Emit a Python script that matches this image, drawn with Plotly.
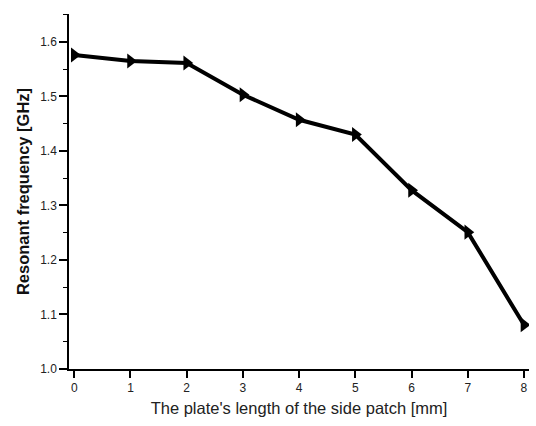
import plotly.graph_objects as go

length_mm = [0, 1, 2, 3, 4, 5, 6, 7, 8]
freq_ghz = [1.576, 1.565, 1.561, 1.503, 1.457, 1.430, 1.328, 1.251, 1.081]
x_ticks = [0, 1, 2, 3, 4, 5, 6, 7, 8]
y_ticks = [1.0, 1.1, 1.2, 1.3, 1.4, 1.5, 1.6]

fig = go.Figure()
fig.add_trace(go.Scatter(
    x=length_mm, y=freq_ghz, mode="lines+markers",
    line=dict(color="black", width=4),
    marker=dict(symbol="triangle-right", size=13, color="black"),
    showlegend=False,
))

font = "Liberation Sans, Arial, sans-serif"
fig.update_layout(
    width=536, height=426,
    margin=dict(l=69, r=7, t=14, b=57),
    paper_bgcolor="white", plot_bgcolor="white",
    font=dict(family=font, color="#222", size=12),
)
fig.update_xaxes(
    range=[-0.094, 8.09], tickvals=x_ticks, ticktext=[str(v) for v in x_ticks],
    showline=True, linecolor="black", linewidth=1.5, mirror=False,
    ticks="outside", ticklen=7, tickwidth=1.5, tickcolor="black",
    showgrid=False, zeroline=False,
    tickfont=dict(size=12, family=font, color="#222"),
    title=dict(text="The plate's length of the side patch [mm]",
               font=dict(size=16.5, family=font, color="#222"), standoff=8),
)
fig.update_yaxes(
    range=[1.0, 1.651], tickvals=y_ticks, ticktext=["%.1f" % v for v in y_ticks],
    showline=True, linecolor="black", linewidth=1.5,
    ticks="outside", ticklen=8, tickwidth=1.5, tickcolor="black",
    minor=dict(dtick=0.05, tick0=1.0, ticks="outside", ticklen=4, tickcolor="black", tickwidth=1),
    showgrid=False, zeroline=False,
    tickfont=dict(size=12, family=font, color="#222"),
    title=dict(text="<b>Resonant frequency [GHz]</b>",
               font=dict(size=16.5, family=font, color="#111"), standoff=6),
)
fig.write_html("out.html")
